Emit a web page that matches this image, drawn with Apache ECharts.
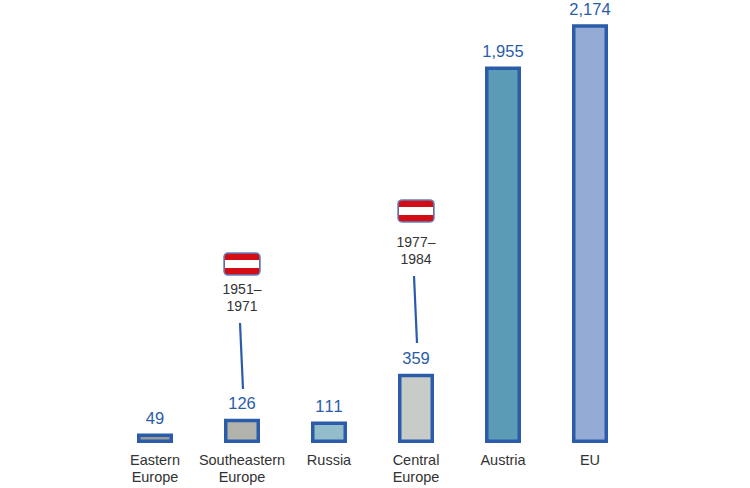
<!DOCTYPE html>
<html>
<head>
<meta charset="utf-8">
<style>html,body{margin:0;padding:0;background:#fff}#chart{width:750px;height:488px}svg text{font-kerning:none}</style>
<script src="https://cdn.jsdelivr.net/npm/echarts@6/dist/echarts.min.js"></script>
</head>
<body>
<div id="chart"></div>
<script>
var categories = ['Eastern\nEurope', 'Southeastern\nEurope', 'Russia', 'Central\nEurope', 'Austria', 'EU'];
var values = [49, 126, 111, 359, 1955, 2174];
var barColors = ['#9a9a96', '#b2b2ad', '#93bdcb', '#c8ccc9', '#5b9bb6', '#94acd5'];

// flag notes above two of the bars, heights in axis units
var noteCats = [1, 3];
var noteLabels = ['1951\u2013\n1971', '1977\u2013\n1984'];
var flagValues = [929, 1205];
var noteValues = [753, 997];
var leaderTop = [623, 867];
var leaderBottom = [280, 519];

var blue = '#2a5caa';
var font = '"Liberation Sans", Arial, sans-serif';

function renderNote(params, api) {
    var cat = api.value(0);
    var flag = api.coord([cat, api.value(1)]);
    var note = api.coord([cat, api.value(2)]);
    var top = api.coord([cat, api.value(3)]);
    var bottom = api.coord([cat, api.value(4)]);
    var label = noteLabels[params.dataIndex];
    return {
        type: 'group',
        children: [
            {type: 'rect', shape: {x: flag[0] - 18, y: flag[1] - 11, width: 36, height: 22, r: 4},
                style: {fill: '#d40d14', stroke: null}},
            {type: 'rect', shape: {x: flag[0] - 17, y: flag[1] - 4, width: 34, height: 8},
                style: {fill: '#fff', stroke: null}},
            {type: 'rect', shape: {x: flag[0] - 18, y: flag[1] - 11, width: 36, height: 22, r: 4},
                style: {fill: null, stroke: '#5f83bf', lineWidth: 1.5}},
            {type: 'text', x: note[0], y: note[1],
                style: {text: label, font: '14px ' + font, fill: '#333', align: 'center',
                    verticalAlign: 'middle', lineHeight: 17}},
            {type: 'line', shape: {x1: top[0] - 2, y1: top[1], x2: bottom[0] + 1, y2: bottom[1]},
                style: {stroke: blue, lineWidth: 2.2}}
        ]
    };
}

var noteData = noteCats.map(function (cat, i) {
    return [cat, flagValues[i], noteValues[i], leaderTop[i], leaderBottom[i]];
});

var chart = echarts.init(document.getElementById('chart'), null, {renderer: 'svg'});
chart.setOption({
    animation: false,
    backgroundColor: '#fff',
    grid: {left: 111.5, width: 522, top: 0, height: 443},
    xAxis: {
        type: 'category',
        data: categories,
        axisLine: {show: false},
        axisTick: {show: false},
        axisLabel: {color: '#333', fontFamily: font, fontSize: 14.5, lineHeight: 17, margin: 8, interval: 0}
    },
    yAxis: {type: 'value', min: 0, max: 2300, show: false},
    series: [
        {
            type: 'bar',
            barWidth: 36,
            data: values.map(function (v, i) {
                return {value: v, itemStyle: {color: barColors[i]}};
            }),
            itemStyle: {borderColor: blue, borderWidth: 3.5},
            label: {
                show: true,
                position: 'top',
                distance: 7,
                color: blue,
                fontFamily: font,
                fontSize: 16.5,
                formatter: function (p) { return p.value.toLocaleString('en-US'); }
            }
        },
        {
            type: 'custom',
            renderItem: renderNote,
            data: noteData,
            silent: true,
            clip: false
        }
    ]
});
</script>
</body>
</html>
